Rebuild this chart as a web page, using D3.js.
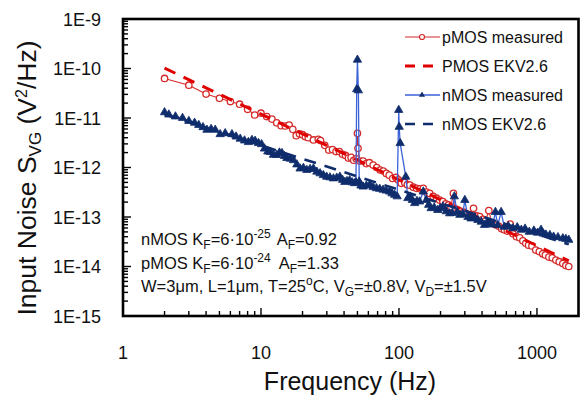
<!DOCTYPE html>
<html>
<head>
<meta charset="utf-8">
<script src="https://cdn.jsdelivr.net/npm/d3@7"></script>
<style>
  body { margin: 0; background: #fff; }
  text { font-family: Arial, "Liberation Sans", sans-serif; fill: #111; }
</style>
</head>
<body>
<div id="chart"></div>
<script>
// pMOS measured: frequency (Hz) and S_VG (V^2/Hz)
const pFreq = [2, 3, 4, 5, 6, 7, 8, 9, 10, 11, 12, 13, 14, 15, 16, 17, 18, 19, 20, 21, 22, 24, 26, 27, 29, 31, 33, 35, 37, 39, 41, 43, 45, 47, 49, 50, 50.5, 52, 55, 58, 61, 65, 69, 73, 77, 81, 85, 90, 95, 99,
  104, 110, 115, 120, 127, 134, 142, 150, 158, 167, 177, 187, 197, 208, 218, 228, 238, 248, 258, 269, 280, 294, 309, 325, 347, 365, 385, 405, 425, 448, 470, 490, 508, 530, 555, 580, 610, 640, 670, 710, 750, 790, 830, 870, 920, 980, 1040, 1100, 1150, 1220, 1290, 1370, 1450, 1540, 1620, 1700];
const pMeas = [6.3e-11, 4.6e-11, 3.05e-11, 2.5e-11, 2.15e-11, 1.9e-11, 1.5e-11, 1.15e-11, 1.25e-11, 1.07e-11, 9.5e-12, 8.0e-12, 7.0e-12, 6.9e-12, 7.2e-12, 5.9e-12, 4.4e-12, 4.8e-12, 4.6e-12, 4.2e-12, 4.0e-12, 3.6e-12, 3.7e-12, 3.5e-12, 2.8e-12, 2.25e-12, 2.3e-12, 2.1e-12, 2.1e-12, 1.85e-12, 1.75e-12, 1.55e-12, 1.6e-12, 1.4e-12, 1.5e-12, 4.9e-12, 2.45e-12, 1.35e-12, 1.35e-12, 1.2e-12, 1.25e-12, 1.12e-12, 1.0e-12, 8.9e-13, 8.5e-13, 7.6e-13, 7.0e-13, 6.0e-13, 6.3e-13, 5.6e-13,
  4.8e-13, 5.0e-13, 4.5e-13, 4.4e-13, 4.0e-13, 3.8e-13, 3.7e-13, 3.8e-13, 3.2e-13, 3.0e-13, 2.6e-13, 2.4e-13, 2.2e-13, 2.05e-13, 1.85e-13, 1.75e-13, 1.6e-13, 3.0e-13, 1.45e-13, 1.38e-13, 1.3e-13, 1.25e-13, 1.17e-13, 1.1e-13, 1.5e-13, 1.05e-13, 1.02e-13, 9.0e-14, 8.5e-14, 1.35e-13, 7.5e-14, 7.2e-14, 6.9e-14, 6.5e-14, 5.8e-14, 5.5e-14, 5.2e-14, 7.2e-14, 4.6e-14, 4.0e-14, 3.8e-14, 3.3e-14, 2.95e-14, 2.7e-14, 2.6e-14, 2.15e-14, 2.0e-14, 1.8e-14, 1.7e-14, 1.55e-14, 1.5e-14, 1.35e-14, 1.25e-14, 1.15e-14, 1.05e-14, 1.0e-14];

// nMOS measured
const nFreq = [2, 2.15, 2.4, 2.7, 3.0, 3.3, 3.54, 3.8, 4.06, 4.35, 4.66, 5.06, 5.5, 6.16, 6.6, 7.07, 7.6, 8.1, 8.6, 9.07, 9.6, 10.1, 10.6, 11.2, 11.7, 12.3, 13, 13.6, 14.2, 14.8, 15.4, 16.3, 17.2, 18.2, 19.2, 20.3, 21.5, 22.7, 24, 25.4, 26.8, 28.3, 29.9, 31.6, 33.5, 35.4, 37.3, 39, 40.5, 42, 43.9, 45.8, 47.7, 48.8, 49.4, 50, 50.8, 51.5, 53, 55, 58, 61.5, 65, 68.7, 72.5, 76.7, 81, 85.6, 89, 93, 97,
  99.6, 100.4, 102, 112, 116, 120, 125, 130, 135, 141, 150, 158, 164, 171, 180, 191, 199, 208, 220, 233, 243, 252, 264, 276, 290, 300, 316, 333, 352, 373, 395, 417, 435, 454, 478, 500, 520, 550, 580, 620, 670, 720, 770, 820, 880, 950, 1010, 1070, 1110, 1160, 1240, 1320, 1420, 1540, 1620, 1700];
const nMeas = [1.3e-11, 1.17e-11, 1.07e-11, 1.0e-11, 8.7e-12, 8.0e-12, 7.2e-12, 6.5e-12, 5.75e-12, 6.0e-12, 5.75e-12, 4.7e-12, 4.9e-12, 4.7e-12, 4.2e-12, 3.8e-12, 3.5e-12, 3.25e-12, 3.6e-12, 3.45e-12, 3.1e-12, 2.95e-12, 2.4e-12, 2.1e-12, 2.05e-12, 1.8e-12, 1.78e-12, 2.0e-12, 1.95e-12, 1.7e-12, 1.55e-12, 1.5e-12, 1.4e-12, 1.15e-12, 9.5e-13, 9.8e-13, 8.9e-13, 9.3e-13, 9.5e-13, 8.2e-13, 7.6e-13, 7.0e-13, 6.5e-13, 6.3e-13, 6.0e-13, 6.2e-13, 6.5e-13, 5.6e-13, 5.1e-13, 5.3e-13, 5.5e-13, 5.0e-13, 4.8e-13, 5.0e-13, 3.8e-11, 1.5e-10, 3.6e-11, 5.2e-13, 4.3e-13, 4.1e-13, 4.3e-13, 4.5e-13, 4.0e-13, 3.8e-13, 3.7e-13, 3.55e-13, 3.4e-13, 3.25e-13, 3.0e-13, 2.8e-13, 2.6e-13,
  1.45e-11, 6.6e-12, 3.1e-12, 6.5e-13, 2.4e-13, 2.55e-13, 2.2e-13, 1.9e-13, 2.1e-13, 2.05e-13, 3.25e-13, 2.2e-13, 1.75e-13, 1.5e-13, 1.55e-13, 1.38e-13, 1.5e-13, 1.62e-13, 1.3e-13, 1.18e-13, 1.2e-13, 2.6e-13, 1.25e-13, 1.1e-13, 1.15e-13, 2.2e-13, 1.0e-13, 9.3e-14, 9.8e-14, 8.7e-14, 8.0e-14, 6.9e-14, 7.8e-14, 7.4e-14, 7.0e-14, 1.26e-13, 6.8e-14, 1.26e-13, 6.3e-14, 6.5e-14, 5.9e-14, 6.2e-14, 5.5e-14, 5.8e-14, 5.0e-14, 5.3e-14, 4.8e-14, 5.5e-14, 4.6e-14, 4.4e-14, 4.3e-14, 4.0e-14, 3.9e-14, 3.7e-14, 3.6e-14, 3.45e-14];

// EKV2.6 model lines (end points)
const ekvFreq = [2, 1700];
const pEkv = [1.02e-10, 1.3e-14];
const nEkv = [1.18e-11, 2.8e-14];

const yTicks = [1e-15, 1e-14, 1e-13, 1e-12, 1e-11, 1e-10, 1e-9];
const yTickLabels = ["1E-15", "1E-14", "1E-13", "1E-12", "1E-11", "1E-10", "1E-9"];
const xTicks = [1, 10, 100, 1000];
const xTickLabels = ["1", "10", "100", "1000"];
const legendLabels = ["pMOS measured", "PMOS EKV2.6", "nMOS measured", "nMOS EKV2.6"];

const red = "#d42a2a", redDash = "#e00000", blue = "#3a62d8", navy = "#0f2c6c";

const svg = d3.select("#chart").append("svg")
  .attr("width", 584).attr("height", 397);

const x = d3.scaleLog().domain([1, 2000]).range([123, 578.5]);
const y = d3.scaleLog().domain([1e-15, 1e-9]).range([316, 19]);

// minor ticks
const xMinor = [];
for (let d = 1; d <= 1000; d *= 10) for (let k = 2; k <= 9; k++) if (d * k < 2000) xMinor.push(d * k);
const yMinor = [];
for (let d = 1e-15; d < 1e-9; d *= 10) for (let k = 2; k <= 9; k++) yMinor.push(d * k);

const axes = svg.append("g").attr("stroke", "#000").attr("stroke-width", 1.4);
axes.selectAll(".xmin").data(xMinor).enter().append("line")
  .attr("x1", d => x(d)).attr("x2", d => x(d)).attr("y1", 316).attr("y2", 311);
axes.selectAll(".xmaj").data(xTicks.slice(1)).enter().append("line")
  .attr("x1", d => x(d)).attr("x2", d => x(d)).attr("y1", 316).attr("y2", 308);
axes.selectAll(".ymin").data(yMinor).enter().append("line")
  .attr("x1", 123).attr("x2", 128).attr("y1", d => y(d)).attr("y2", d => y(d));
axes.selectAll(".ymaj").data(yTicks).enter().append("line")
  .attr("x1", 123).attr("x2", 131).attr("y1", d => y(d)).attr("y2", d => y(d));

// frame
svg.append("rect").attr("x", 123).attr("y", 19).attr("width", 455.5).attr("height", 297)
  .attr("fill", "none").attr("stroke", "#000").attr("stroke-width", 2.6);

// tick labels
svg.selectAll(".ylab").data(yTicks).enter().append("text")
  .attr("x", 101).attr("y", d => y(d) + 6.5).attr("text-anchor", "end")
  .attr("font-size", 18).text((d, i) => yTickLabels[i]);
svg.selectAll(".xlab").data(xTicks).enter().append("text")
  .attr("x", d => x(d)).attr("y", 359).attr("text-anchor", "middle")
  .attr("font-size", 18).text((d, i) => xTickLabels[i]);

// axis titles
svg.append("text").attr("x", 350).attr("y", 390).attr("text-anchor", "middle")
  .attr("font-size", 25).text("Frequency (Hz)");
const yt = svg.append("text").attr("transform", "translate(36,178) rotate(-90)")
  .attr("text-anchor", "middle").attr("font-size", 26.5);
yt.append("tspan").text("Input Noise  S");
yt.append("tspan").attr("dy", 5).attr("font-size", 17).text("VG");
yt.append("tspan").attr("dy", -5).text(" (V");
yt.append("tspan").attr("dy", -9).attr("font-size", 16).text("2");
yt.append("tspan").attr("dy", 9).text("/Hz)");

const plot = svg.append("g");
const line = d3.line().x(d => x(d[0])).y(d => y(d[1]));

// pMOS measured
const pData = pFreq.map((f, i) => [f, pMeas[i]]);
plot.append("path").datum(pData).attr("d", line)
  .attr("fill", "none").attr("stroke", red).attr("stroke-width", 1.1);
plot.selectAll(".pm").data(pData).enter().append("circle")
  .attr("cx", d => x(d[0])).attr("cy", d => y(d[1])).attr("r", 3.2)
  .attr("fill", "#fff").attr("stroke", red).attr("stroke-width", 1.3);

// pMOS EKV
plot.append("path").datum(ekvFreq.map((f, i) => [f, pEkv[i]])).attr("d", line)
  .attr("fill", "none").attr("stroke", redDash).attr("stroke-width", 3)
  .attr("stroke-dasharray", "12,9");

// nMOS measured
const nData = nFreq.map((f, i) => [f, nMeas[i]]);
plot.append("path").datum(nData).attr("d", line)
  .attr("fill", "none").attr("stroke", blue).attr("stroke-width", 1.3);
const tri = d3.symbol().type(d3.symbolTriangle).size(30);
plot.selectAll(".nm").data(nData).enter().append("path")
  .attr("d", tri).attr("transform", d => `translate(${x(d[0])},${y(d[1])})`)
  .attr("fill", navy).attr("stroke", navy).attr("stroke-width", 0.8);

// nMOS EKV
plot.append("path").datum(ekvFreq.map((f, i) => [f, nEkv[i]])).attr("d", line)
  .attr("fill", "none").attr("stroke", navy).attr("stroke-width", 2.6)
  .attr("stroke-dasharray", "12,9");

// legend
const lg = svg.append("g");
const ly = [37, 66, 95, 124];
lg.append("line").attr("x1", 405).attr("x2", 440).attr("y1", ly[0]).attr("y2", ly[0]).attr("stroke", red).attr("stroke-width", 1.1);
lg.append("circle").attr("cx", 422).attr("cy", ly[0]).attr("r", 2.5).attr("fill", "#fff").attr("stroke", red).attr("stroke-width", 1.2);
lg.append("line").attr("x1", 405).attr("x2", 440).attr("y1", ly[1]).attr("y2", ly[1]).attr("stroke", redDash).attr("stroke-width", 3).attr("stroke-dasharray", "10,8");
lg.append("line").attr("x1", 405).attr("x2", 440).attr("y1", ly[2]).attr("y2", ly[2]).attr("stroke", blue).attr("stroke-width", 1.3);
lg.append("path").attr("d", d3.symbol().type(d3.symbolTriangle).size(16)).attr("transform", `translate(422,${ly[2]})`).attr("fill", navy);
lg.append("line").attr("x1", 405).attr("x2", 440).attr("y1", ly[3]).attr("y2", ly[3]).attr("stroke", navy).attr("stroke-width", 2.4).attr("stroke-dasharray", "10,8");
lg.selectAll(".lt").data(legendLabels).enter().append("text")
  .attr("x", 442).attr("y", (d, i) => ly[i] + 6).attr("font-size", 16).text(d => d);

// annotation
const ann = svg.append("g");
function addLine(yy, parts) {
  const t = ann.append("text").attr("x", 141).attr("y", yy).attr("font-size", 16.5);
  parts.forEach(p => {
    const s = t.append("tspan").text(p[0]);
    if (p[1] === "sub") s.attr("font-size", 12).attr("dy", 4);
    if (p[1] === "sup") s.attr("font-size", 12).attr("dy", -7);
    if (p[1] === "back") s.attr("dy", p[2]);
    if (p[3]) s.attr("dx", p[3]);
  });
}
addLine(245, [["nMOS K"], ["F", "sub"], ["=6·10", "back", -4], ["-25", "sup"], ["A", "back", 7, 6], ["F", "sub"], ["=0.92", "back", -4]]);
addLine(269, [["pMOS K"], ["F", "sub"], ["=6·10", "back", -4], ["-24", "sup"], ["A", "back", 7, 8], ["F", "sub"], ["=1.33", "back", -4]]);
addLine(292, [["W=3μm, L=1μm, T=25"], ["o", "sup"], ["C, V", "back", 7], ["G", "sub"], ["=±0.8V, V", "back", -4], ["D", "sub"], ["=±1.5V", "back", -4]]);
</script>
</body>
</html>
